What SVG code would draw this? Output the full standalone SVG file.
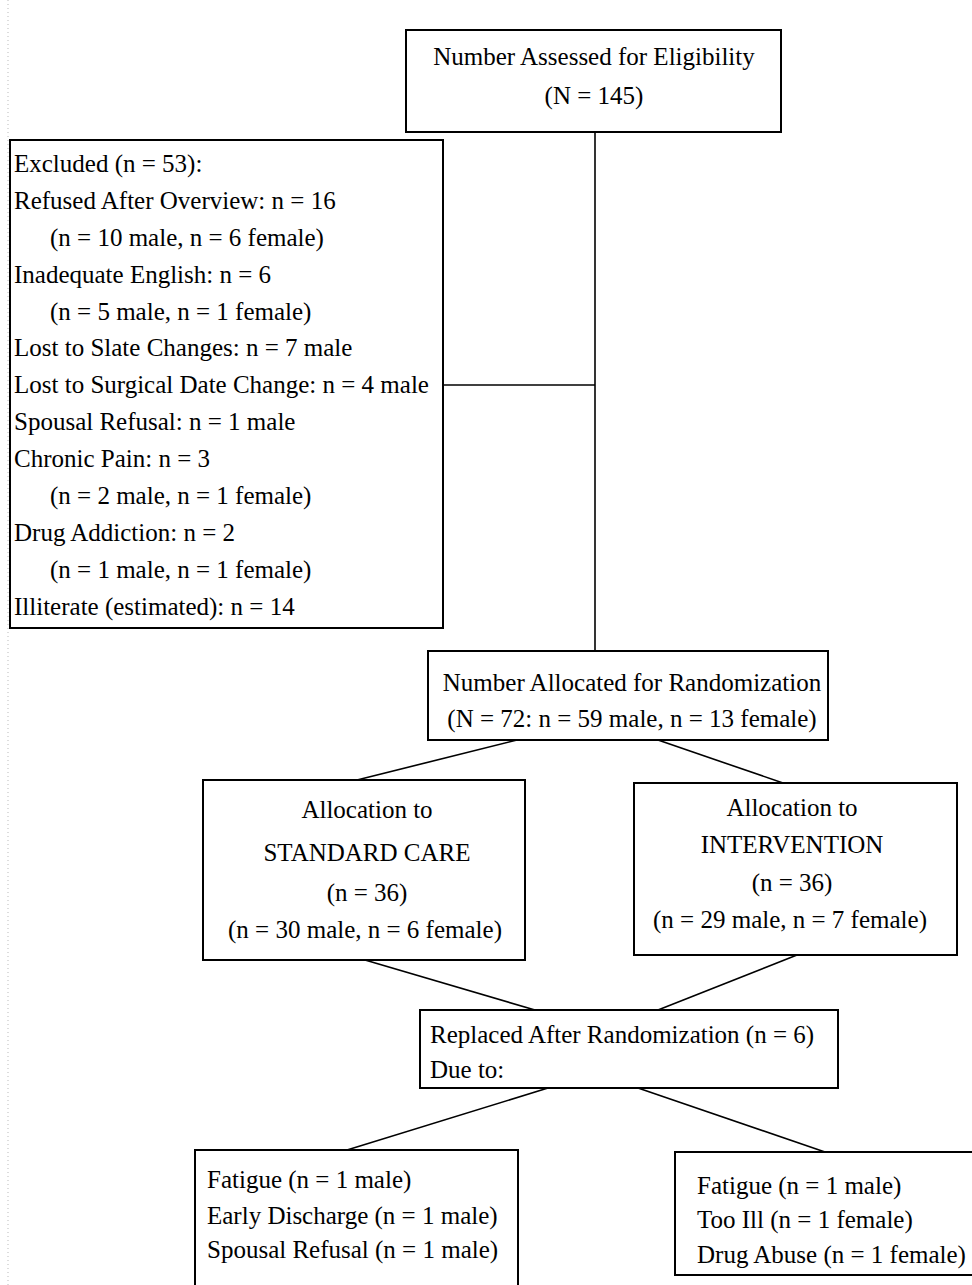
<svg xmlns="http://www.w3.org/2000/svg" width="972" height="1285" viewBox="0 0 972 1285">
<style>
.box{fill:#fff;stroke:#000;stroke-width:2}
.t{font-family:"Liberation Serif","Times New Roman",serif;font-size:25px;fill:#000}
.c{text-anchor:middle}
.conn line{stroke:#000;stroke-width:1.6}
</style>
<rect width="972" height="1285" fill="#fff"/>
<line x1="8" y1="0" x2="8" y2="1285" stroke="#bbb" stroke-width="1" stroke-dasharray="1 3"/>
<g class="conn" id="connectors">
<line x1="595" y1="132" x2="595" y2="651"/>
<line x1="443" y1="385" x2="595" y2="385"/>
<line x1="517" y1="740" x2="357" y2="780"/>
<line x1="658" y1="740" x2="783" y2="783"/>
<line x1="365" y1="960" x2="535" y2="1010"/>
<line x1="797" y1="955" x2="658" y2="1010"/>
<line x1="548" y1="1088" x2="347" y2="1150"/>
<line x1="638" y1="1088" x2="825" y2="1152"/>
</g>
<g id="assessed">
<rect class="box" x="406" y="30" width="375" height="102"/>
<text class="t c" x="594" y="65">Number Assessed for Eligibility</text>
<text class="t c" x="594" y="104">(N = 145)</text>
</g>
<g id="excluded">
<rect class="box" x="10" y="140" width="433" height="488"/>
<text class="t" x="14" y="172">Excluded (n = 53):</text>
<text class="t" x="14" y="209">Refused After Overview: n = 16</text>
<text class="t" x="50" y="246">(n = 10 male, n = 6 female)</text>
<text class="t" x="14" y="283">Inadequate English: n = 6</text>
<text class="t" x="50" y="320">(n = 5 male, n = 1 female)</text>
<text class="t" x="14" y="356">Lost to Slate Changes: n = 7 male</text>
<text class="t" x="14" y="393">Lost to Surgical Date Change: n = 4 male</text>
<text class="t" x="14" y="430">Spousal Refusal: n = 1 male</text>
<text class="t" x="14" y="467">Chronic Pain: n = 3</text>
<text class="t" x="50" y="504">(n = 2 male, n = 1 female)</text>
<text class="t" x="14" y="541">Drug Addiction: n = 2</text>
<text class="t" x="50" y="578">(n = 1 male, n = 1 female)</text>
<text class="t" x="14" y="615">Illiterate (estimated): n = 14</text>
</g>
<g id="randomization">
<rect class="box" x="428" y="651" width="400" height="89"/>
<text class="t c" x="632" y="691">Number Allocated for Randomization</text>
<text class="t c" x="632" y="727">(N = 72: n = 59 male, n = 13 female)</text>
</g>
<g id="standard">
<rect class="box" x="203" y="780" width="322" height="180"/>
<text class="t c" x="367" y="818">Allocation to</text>
<text class="t c" x="367" y="861">STANDARD CARE</text>
<text class="t c" x="367" y="901">(n = 36)</text>
<text class="t c" x="365" y="938">(n = 30 male, n = 6 female)</text>
</g>
<g id="intervention">
<rect class="box" x="634" y="783" width="323" height="172"/>
<text class="t c" x="792" y="816">Allocation to</text>
<text class="t c" x="792" y="853">INTERVENTION</text>
<text class="t c" x="792" y="891">(n = 36)</text>
<text class="t c" x="790" y="928">(n = 29 male, n = 7 female)</text>
</g>
<g id="replaced">
<rect class="box" x="420" y="1010" width="418" height="78"/>
<text class="t" x="430" y="1043">Replaced After Randomization (n = 6)</text>
<text class="t" x="430" y="1078">Due to:</text>
</g>
<g id="reasons-standard">
<rect class="box" x="195" y="1150" width="323" height="145"/>
<text class="t" x="207" y="1188">Fatigue (n = 1 male)</text>
<text class="t" x="207" y="1224">Early Discharge (n = 1 male)</text>
<text class="t" x="207" y="1258">Spousal Refusal (n = 1 male)</text>
</g>
<g id="reasons-intervention">
<rect class="box" x="675" y="1152" width="310" height="123"/>
<text class="t" x="697" y="1194">Fatigue (n = 1 male)</text>
<text class="t" x="697" y="1228">Too Ill (n = 1 female)</text>
<text class="t" x="697" y="1263">Drug Abuse (n = 1 female)</text>
</g>
</svg>
